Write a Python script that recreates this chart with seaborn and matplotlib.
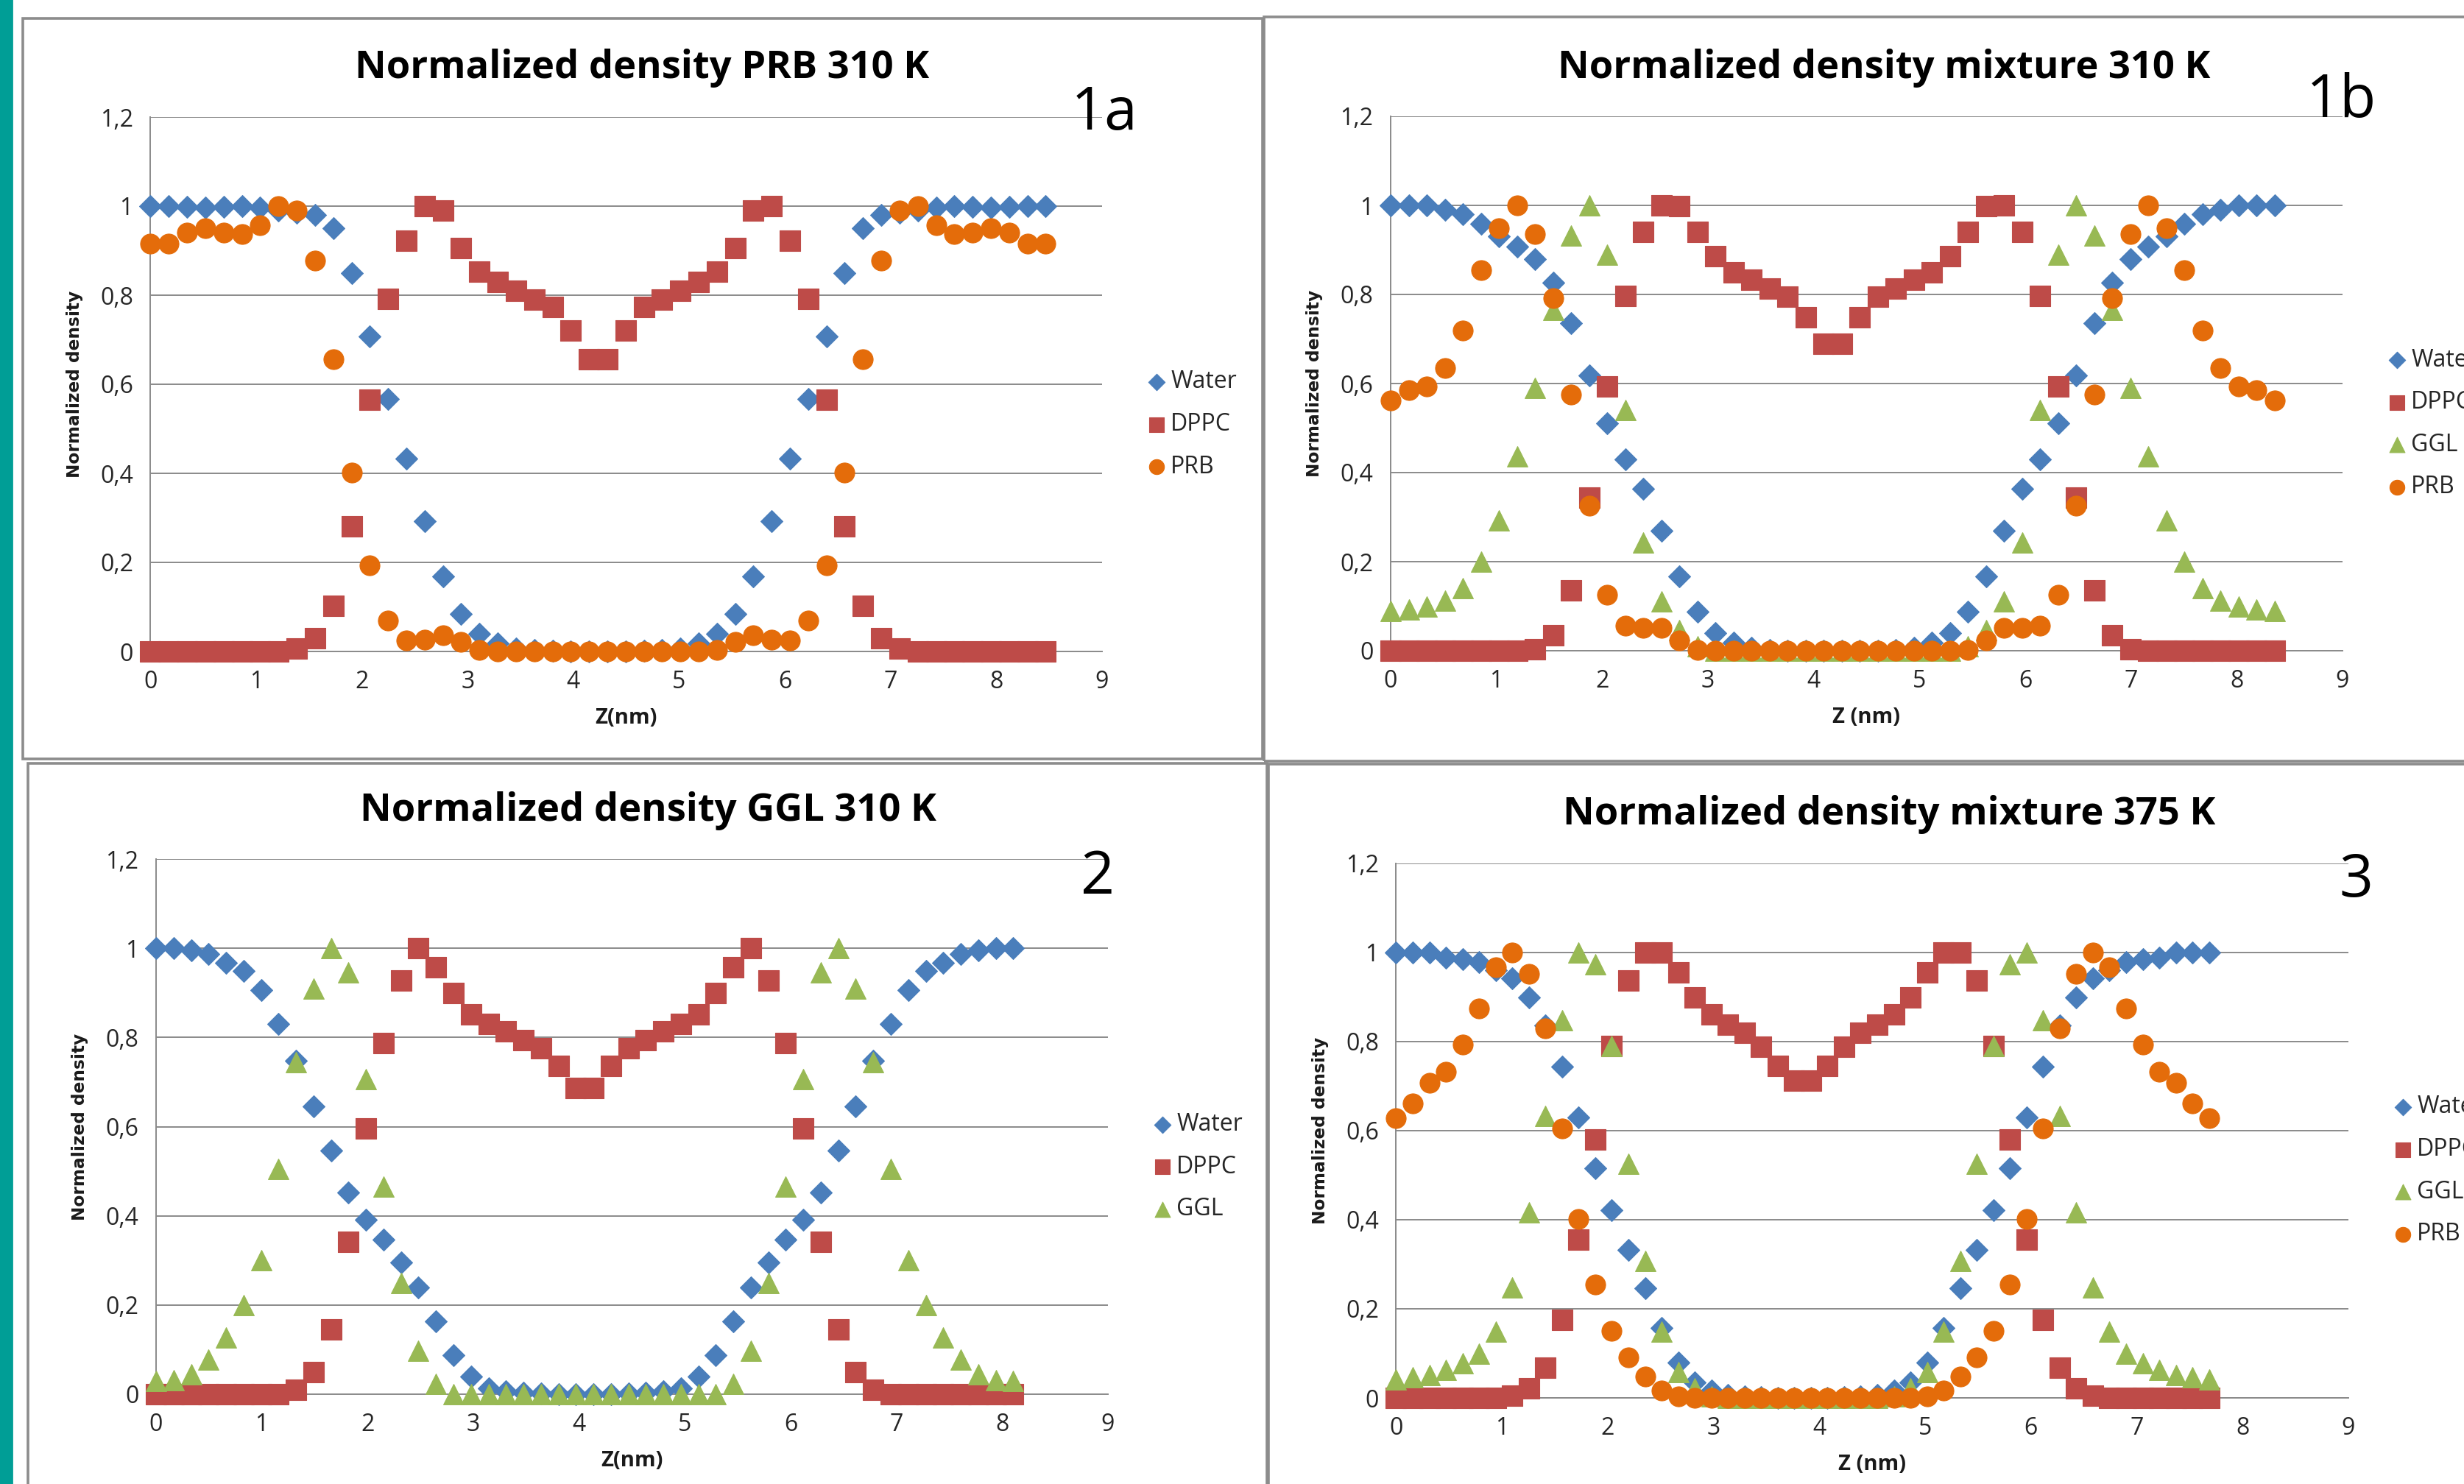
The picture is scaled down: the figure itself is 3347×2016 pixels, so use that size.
import matplotlib.pyplot as plt
import matplotlib.patches as mpatches
import seaborn as sns

# z grid (nm) and normalized densities
z_1a = [0.000, 0.173, 0.346, 0.518, 0.691, 0.864, 1.037, 1.210, 1.382, 1.555,
        1.728, 1.901, 2.074, 2.246, 2.419, 2.592, 2.765, 2.938, 3.110, 3.283,
        3.456, 3.629, 3.802, 3.974, 4.147, 4.320, 4.493, 4.666, 4.838, 5.011,
        5.184, 5.357, 5.530, 5.702, 5.875, 6.048, 6.221, 6.394, 6.566, 6.739,
        6.912, 7.085, 7.258, 7.430, 7.603, 7.776, 7.949, 8.122, 8.294, 8.467]
water_1a = [1.0, 1.0, 0.998, 0.996, 0.998, 1.0, 0.996, 0.99, 0.985, 0.98,
            0.95, 0.85, 0.707, 0.567, 0.433, 0.293, 0.168, 0.084, 0.039, 0.018,
            0.007, 0.003, 0.001, 0.0, 0.0, 0.0, 0.0, 0.001, 0.003, 0.007,
            0.018, 0.039, 0.084, 0.168, 0.293, 0.433, 0.567, 0.707, 0.85, 0.95,
            0.98, 0.985, 0.99, 0.996, 1.0, 0.998, 0.996, 0.998, 1.0, 1.0]
dppc_1a = [0, 0, 0, 0, 0, 0, 0, 0, 0.007, 0.029,
           0.102, 0.281, 0.566, 0.791, 0.923, 1.0, 0.99, 0.905, 0.853, 0.83,
           0.81, 0.79, 0.774, 0.72, 0.656, 0.656, 0.72, 0.774, 0.79, 0.81,
           0.83, 0.853, 0.905, 0.99, 1.0, 0.923, 0.791, 0.566, 0.281, 0.102,
           0.029, 0.007, 0, 0, 0, 0, 0, 0, 0, 0]
prb_1a = [0.915, 0.915, 0.94, 0.95, 0.94, 0.937, 0.957, 1.0, 0.99, 0.877,
          0.656, 0.402, 0.194, 0.069, 0.025, 0.026, 0.037, 0.021, 0.004, 0,
          0, 0, 0, 0, 0, 0, 0, 0, 0, 0,
          0, 0.004, 0.021, 0.037, 0.026, 0.025, 0.069, 0.194, 0.402, 0.656,
          0.877, 0.99, 1.0, 0.957, 0.937, 0.94, 0.95, 0.94, 0.915, 0.915]

z_1b = [0.000, 0.171, 0.341, 0.512, 0.682, 0.853, 1.024, 1.194, 1.365, 1.535,
        1.706, 1.877, 2.047, 2.218, 2.388, 2.559, 2.730, 2.900, 3.071, 3.241,
        3.412, 3.583, 3.753, 3.924, 4.094, 4.265, 4.436, 4.606, 4.777, 4.947,
        5.118, 5.289, 5.459, 5.630, 5.800, 5.971, 6.142, 6.312, 6.483, 6.653,
        6.824, 6.995, 7.165, 7.336, 7.506, 7.677, 7.848, 8.018, 8.189, 8.359]
water_1b = [1.0, 1.0, 1.0, 0.99, 0.98, 0.958, 0.93, 0.907, 0.879, 0.826,
            0.736, 0.618, 0.51, 0.43, 0.363, 0.269, 0.167, 0.088, 0.039, 0.018,
            0.006, 0.002, 0, 0, 0, 0, 0, 0, 0.002, 0.006,
            0.018, 0.039, 0.088, 0.167, 0.269, 0.363, 0.43, 0.51, 0.618, 0.736,
            0.826, 0.879, 0.907, 0.93, 0.958, 0.98, 0.99, 1.0, 1.0, 1.0]
dppc_1b = [0, 0, 0, 0, 0, 0, 0, 0, 0.004, 0.034,
           0.136, 0.343, 0.594, 0.797, 0.941, 1.0, 0.998, 0.941, 0.886, 0.85,
           0.833, 0.814, 0.795, 0.749, 0.69, 0.69, 0.749, 0.795, 0.814, 0.833,
           0.85, 0.886, 0.941, 0.998, 1.0, 0.941, 0.797, 0.594, 0.343, 0.136,
           0.034, 0.004, 0, 0, 0, 0, 0, 0, 0, 0]
ggl_1b = [0.09, 0.092, 0.099, 0.113, 0.141, 0.2, 0.293, 0.437, 0.59, 0.765,
          0.933, 1.0, 0.89, 0.54, 0.243, 0.11, 0.046, 0.01, 0, 0,
          0, 0, 0, 0, 0, 0, 0, 0, 0, 0,
          0, 0, 0.01, 0.046, 0.11, 0.243, 0.54, 0.89, 1.0, 0.933,
          0.765, 0.59, 0.437, 0.293, 0.2, 0.141, 0.113, 0.099, 0.092, 0.09]
prb_1b = [0.562, 0.585, 0.594, 0.634, 0.719, 0.855, 0.948, 1.0, 0.936, 0.792,
          0.575, 0.325, 0.125, 0.057, 0.052, 0.052, 0.023, 0.002, 0, 0,
          0, 0, 0, 0, 0, 0, 0, 0, 0, 0,
          0, 0, 0.002, 0.023, 0.052, 0.052, 0.057, 0.125, 0.325, 0.575,
          0.792, 0.936, 1.0, 0.948, 0.855, 0.719, 0.634, 0.594, 0.585, 0.562]

z_2 = [0.000, 0.165, 0.331, 0.496, 0.662, 0.827, 0.992, 1.158, 1.323, 1.489,
       1.654, 1.819, 1.985, 2.150, 2.316, 2.481, 2.646, 2.812, 2.977, 3.143,
       3.308, 3.473, 3.639, 3.804, 3.970, 4.135, 4.300, 4.466, 4.631, 4.797,
       4.962, 5.127, 5.293, 5.458, 5.624, 5.789, 5.954, 6.120, 6.285, 6.451,
       6.616, 6.781, 6.947, 7.112, 7.278, 7.443, 7.608, 7.774, 7.939, 8.105]
water_2 = [1.0, 1.0, 0.996, 0.987, 0.968, 0.949, 0.907, 0.831, 0.747, 0.646,
           0.546, 0.452, 0.392, 0.346, 0.295, 0.239, 0.164, 0.088, 0.039, 0.014,
           0.007, 0.003, 0.001, 0, 0, 0, 0, 0.001, 0.003, 0.007,
           0.014, 0.039, 0.088, 0.164, 0.239, 0.295, 0.346, 0.392, 0.452, 0.546,
           0.646, 0.747, 0.831, 0.907, 0.949, 0.968, 0.987, 0.996, 1.0, 1.0]
dppc_2 = [0, 0, 0, 0, 0, 0, 0, 0, 0.01, 0.05,
          0.146, 0.341, 0.596, 0.788, 0.928, 1.0, 0.958, 0.9, 0.852, 0.831,
          0.814, 0.794, 0.776, 0.737, 0.687, 0.687, 0.737, 0.776, 0.794, 0.814,
          0.831, 0.852, 0.9, 0.958, 1.0, 0.928, 0.788, 0.596, 0.341, 0.146,
          0.05, 0.01, 0, 0, 0, 0, 0, 0, 0, 0]
ggl_2 = [0.03, 0.032, 0.044, 0.078, 0.127, 0.199, 0.301, 0.505, 0.745, 0.91,
         1.0, 0.946, 0.706, 0.466, 0.25, 0.097, 0.023, 0, 0, 0,
         0, 0, 0, 0, 0, 0, 0, 0, 0, 0,
         0, 0, 0, 0.023, 0.097, 0.25, 0.466, 0.706, 0.946, 1.0,
         0.91, 0.745, 0.505, 0.301, 0.199, 0.127, 0.078, 0.044, 0.032, 0.03]

z_3 = [0.000, 0.157, 0.314, 0.470, 0.627, 0.784, 0.941, 1.098, 1.254, 1.411,
       1.568, 1.725, 1.882, 2.038, 2.195, 2.352, 2.509, 2.666, 2.822, 2.979,
       3.136, 3.293, 3.450, 3.606, 3.763, 3.920, 4.077, 4.234, 4.390, 4.547,
       4.704, 4.861, 5.018, 5.174, 5.331, 5.488, 5.645, 5.802, 5.958, 6.115,
       6.272, 6.429, 6.586, 6.742, 6.899, 7.056, 7.213, 7.370, 7.526, 7.683]
water_3 = [1.0, 1.0, 1.0, 0.988, 0.985, 0.978, 0.959, 0.941, 0.899, 0.836,
           0.743, 0.63, 0.516, 0.421, 0.332, 0.246, 0.157, 0.08, 0.035, 0.017,
           0.007, 0.003, 0.001, 0, 0, 0, 0, 0.001, 0.003, 0.007,
           0.017, 0.035, 0.08, 0.157, 0.246, 0.332, 0.421, 0.516, 0.63, 0.743,
           0.836, 0.899, 0.941, 0.959, 0.978, 0.985, 0.988, 1.0, 1.0, 1.0]
dppc_3 = [0, 0, 0, 0, 0, 0, 0, 0.005, 0.022, 0.068,
          0.175, 0.355, 0.579, 0.79, 0.937, 1.0, 1.0, 0.954, 0.898, 0.86,
          0.837, 0.819, 0.788, 0.745, 0.712, 0.712, 0.745, 0.788, 0.819, 0.837,
          0.86, 0.898, 0.954, 1.0, 1.0, 0.937, 0.79, 0.579, 0.355, 0.175,
          0.068, 0.022, 0.005, 0, 0, 0, 0, 0, 0, 0]
ggl_3 = [0.042, 0.047, 0.052, 0.063, 0.078, 0.099, 0.148, 0.248, 0.416, 0.633,
         0.847, 1.0, 0.973, 0.79, 0.526, 0.307, 0.148, 0.057, 0.021, 0.004,
         0, 0, 0, 0, 0, 0, 0, 0, 0, 0,
         0.004, 0.021, 0.057, 0.148, 0.307, 0.526, 0.79, 0.973, 1.0, 0.847,
         0.633, 0.416, 0.248, 0.148, 0.099, 0.078, 0.063, 0.052, 0.047, 0.042]
prb_3 = [0.628, 0.661, 0.707, 0.731, 0.793, 0.874, 0.966, 1.0, 0.952, 0.829,
         0.605, 0.402, 0.255, 0.15, 0.091, 0.048, 0.017, 0.003, 0, 0,
         0, 0, 0, 0, 0, 0, 0, 0, 0, 0,
         0, 0, 0.003, 0.017, 0.048, 0.091, 0.15, 0.255, 0.402, 0.605,
         0.829, 0.952, 1.0, 0.966, 0.874, 0.793, 0.731, 0.707, 0.661, 0.628]

x_ticks = [0, 1, 2, 3, 4, 5, 6, 7, 8, 9]
y_ticks = [0, 0.2, 0.4, 0.6, 0.8, 1.0, 1.2]
y_tick_labels = ["0", "0,2", "0,4", "0,6", "0,8", "1", "1,2"]

colors = {"Water": "#4A7EBB", "DPPC": "#BE4B48", "GGL": "#98B954", "PRB": "#E46C0A"}
markers = {"Water": "D", "DPPC": "s", "GGL": "^", "PRB": "o"}
sizes = {"Water": 58, "DPPC": 100, "GGL": 100, "PRB": 95}
GRID = "#8a8a8a"
W, H = 3348, 2016

sns.set_style("white")
plt.rcParams["font.family"] = ["Open Sans", "DejaVu Sans"]

fig = plt.figure(figsize=(W / 200, H / 200), dpi=200)
fig.patch.set_facecolor("white")


def px_rect(x0, y0, x1, y1):
    # pixel box (top-left origin) -> figure fraction rect
    return [x0 / W, 1 - y1 / H, (x1 - x0) / W, (y1 - y0) / H]


# slide decoration: teal bar on the left and the chart frames
fig.patches.append(mpatches.Rectangle((0, 0), 16 / W, 1, transform=fig.transFigure,
                                      color="#009E96", zorder=0))
for box in [(31, 25, 1715, 1031), (1717, 23, 3420, 1034),
            (38, 1037, 1721, 2100), (1723, 1038, 3420, 2100)]:
    r = px_rect(*box)
    fig.patches.append(mpatches.Rectangle((r[0], r[1]), r[2], r[3], transform=fig.transFigure,
                                          fill=False, edgecolor="#8c8c8c", lw=1.3, zorder=1))


def draw_panel(axes_px, z, series, title, title_px, tag, tag_px, xlabel):
    ax = fig.add_axes(px_rect(*axes_px))
    for name, vals in series:
        sns.scatterplot(x=z, y=vals, ax=ax, marker=markers[name], s=sizes[name],
                        color=colors[name], edgecolor=colors[name], linewidth=0.4,
                        label=name, clip_on=False, zorder=3)
    ax.set_xlim(0, 9)
    ax.set_ylim(0, 1.2)
    ax.set_xticks(x_ticks)
    ax.set_xticklabels([str(t) for t in x_ticks])
    ax.set_yticks(y_ticks)
    ax.set_yticklabels(y_tick_labels)
    ax.set_facecolor("none")
    for side in ["top", "right"]:
        ax.spines[side].set_visible(False)
    for side in ["left", "bottom"]:
        ax.spines[side].set_color(GRID)
        ax.spines[side].set_linewidth(0.7)
    ax.yaxis.grid(True, color=GRID, lw=0.7)
    ax.xaxis.grid(False)
    ax.set_axisbelow(True)
    ax.tick_params(axis="x", direction="out", length=6, width=0.7, color=GRID,
                   labelsize=11.5, labelcolor="#262626", pad=3)
    ax.tick_params(axis="y", direction="out", length=4.5, width=0.7, color=GRID,
                   labelsize=11.5, labelcolor="#262626", pad=4)

    ax.set_xlabel(xlabel, fontsize=10.5, fontweight="bold", color="#1a1a1a")
    ax.xaxis.set_label_coords(0.5, -0.104)
    ax.set_ylabel("Normalized density", fontsize=8.4, fontweight="bold",
                  family=["DejaVu Sans"], color="#1a1a1a")
    ax.yaxis.set_label_coords(-0.071, 0.5)

    handles, labels = ax.get_legend_handles_labels()
    ax.legend(handles, labels, loc="center left", bbox_to_anchor=(1.045, 0.425),
              frameon=False, markerscale=0.75, fontsize=11.5, handlelength=1.0,
              handletextpad=0.1, labelspacing=0.77, borderpad=0, borderaxespad=0)

    fig.text(title_px[0] / W, 1 - title_px[1] / H, title, ha="center", va="baseline",
             fontsize=18.9, fontweight="bold", color="black")
    fig.text(tag_px[0] / W, 1 - tag_px[1] / H, tag, ha="center", va="baseline",
             fontsize=29, color="black")
    return ax


draw_panel((204.5, 159, 1497, 885), z_1a,
           [("Water", water_1a), ("DPPC", dppc_1a), ("PRB", prb_1a)],
           "Normalized density PRB 310 K", (872, 106), "1a", (1500, 176), "Z(nm)")
draw_panel((1889, 158, 3182, 884), z_1b,
           [("Water", water_1b), ("DPPC", dppc_1b), ("GGL", ggl_1b), ("PRB", prb_1b)],
           "Normalized density mixture 310 K", (2559, 106), "1b", (3180, 159), "Z (nm)")
draw_panel((212, 1167, 1505, 1894), z_2,
           [("Water", water_2), ("DPPC", dppc_2), ("GGL", ggl_2)],
           "Normalized density GGL 310 K", (880, 1115), "2", (1491, 1214), "Z(nm)")
draw_panel((1896.5, 1172.5, 3190, 1899), z_3,
           [("Water", water_3), ("DPPC", dppc_3), ("GGL", ggl_3), ("PRB", prb_3)],
           "Normalized density mixture 375 K", (2566, 1120), "3", (3200, 1218), "Z (nm)")

fig.savefig("out.png", dpi=200, facecolor="white")
